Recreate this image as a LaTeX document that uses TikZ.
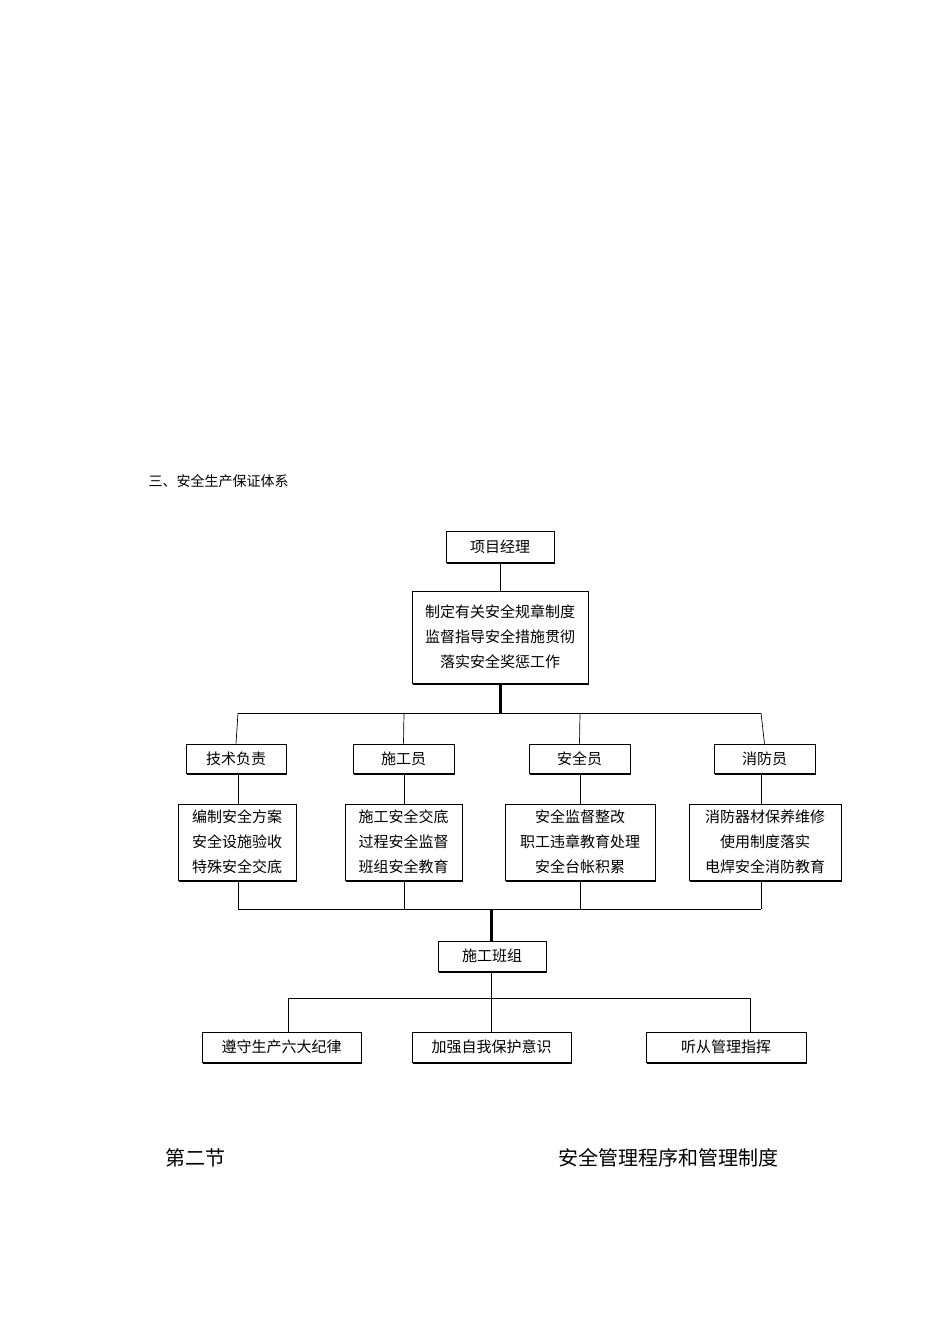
\documentclass[tikz,border=0pt]{standalone}
\usepackage{fontspec}
\newfontfamily\cjk{Noto Sans CJK SC}
\begin{document}
\begin{tikzpicture}[x=1pt,y=-1pt,
  bx/.style={draw,line width=0.8pt,inner sep=0pt,font=\cjk\fontsize{15}{25}\selectfont,align=center},
  ln/.style={line width=0.7pt},
  dbl/.style={line width=3pt}]
\useasboundingbox (0,0) rectangle (950,1344);
\node[anchor=west,font=\cjk\fontsize{14}{16}\selectfont] (t1) at (145,481) {三、安全生产保证体系};
\newcommand{\bxat}[6]{%
 \node[bx,minimum width={#4-#2},minimum height={#5-#3}] (#1) at ({(#2+#4)/2},{(#3+#5)/2}) {#6};
 \draw[line width=1.4pt] (#1.south west)++(1,1) -- ++({#4-#2},0) -- ++(0,{#3-#5});}
\bxat{pm}{446}{531}{554}{562}{项目经理}
\bxat{dz}{412}{591}{588}{683}{制定有关安全规章制度\\监督指导安全措施贯彻\\落实安全奖惩工作}
\bxat{a}{186}{744}{286}{773}{技术负责}
\bxat{b}{353}{744}{454}{773}{施工员}
\bxat{c}{529}{744}{630}{773}{安全员}
\bxat{d}{714}{744}{815}{773}{消防员}
\bxat{a2}{178}{804}{296}{880}{编制安全方案\\安全设施验收\\特殊安全交底}
\bxat{b2}{345}{804}{462}{880}{施工安全交底\\过程安全监督\\班组安全教育}
\bxat{c2}{505}{804}{655}{880}{安全监督整改\\职工违章教育处理\\安全台帐积累}
\bxat{d2}{689}{804}{841}{880}{消防器材保养维修\\使用制度落实\\电焊安全消防教育}
\bxat{bz}{438}{941}{546}{971}{施工班组}
\bxat{e}{202}{1032}{361}{1062}{遵守生产六大纪律}
\bxat{f}{412}{1032}{571}{1062}{加强自我保护意识}
\bxat{g}{646}{1032}{806}{1062}{听从管理指挥}
\coordinate (h1) at (500,713);
\coordinate (h2) at (491,909);
\coordinate (h3) at (491,998);
\draw[ln] (pm) -- (dz);
\draw[dbl] (dz.south) -- (h1);
\draw[ln] (238,713) -- (761,713);
\foreach \n/\x in {a/238,b/404,c/580,d/761}{
  \draw[ln] (\x,713) -- (\n.north);
  \draw[ln] (\n.south -| \x,0) -- (\n2.north -| \x,0);
  \draw[ln] (\n2.south -| \x,0) -- (\x,909);}
\draw[ln] (238,909) -- (761,909);
\draw[dbl] (h2) -- (bz.north -| h2);
\draw[ln] (bz.south -| h2) -- (h3);
\draw[ln] (288,998) -- (750,998);
\foreach \n/\x in {e/288,f/491,g/750}{\draw[ln] (\x,998) -- (\n.north -| \x,0);}
\node[anchor=west,font=\cjk\fontsize{20}{22}\selectfont] (s1) at (162,1158) {第二节};
\node[anchor=west,font=\cjk\fontsize{20}{22}\selectfont] (s2) at (555,1158) {安全管理程序和管理制度};
\end{tikzpicture}
\end{document}
